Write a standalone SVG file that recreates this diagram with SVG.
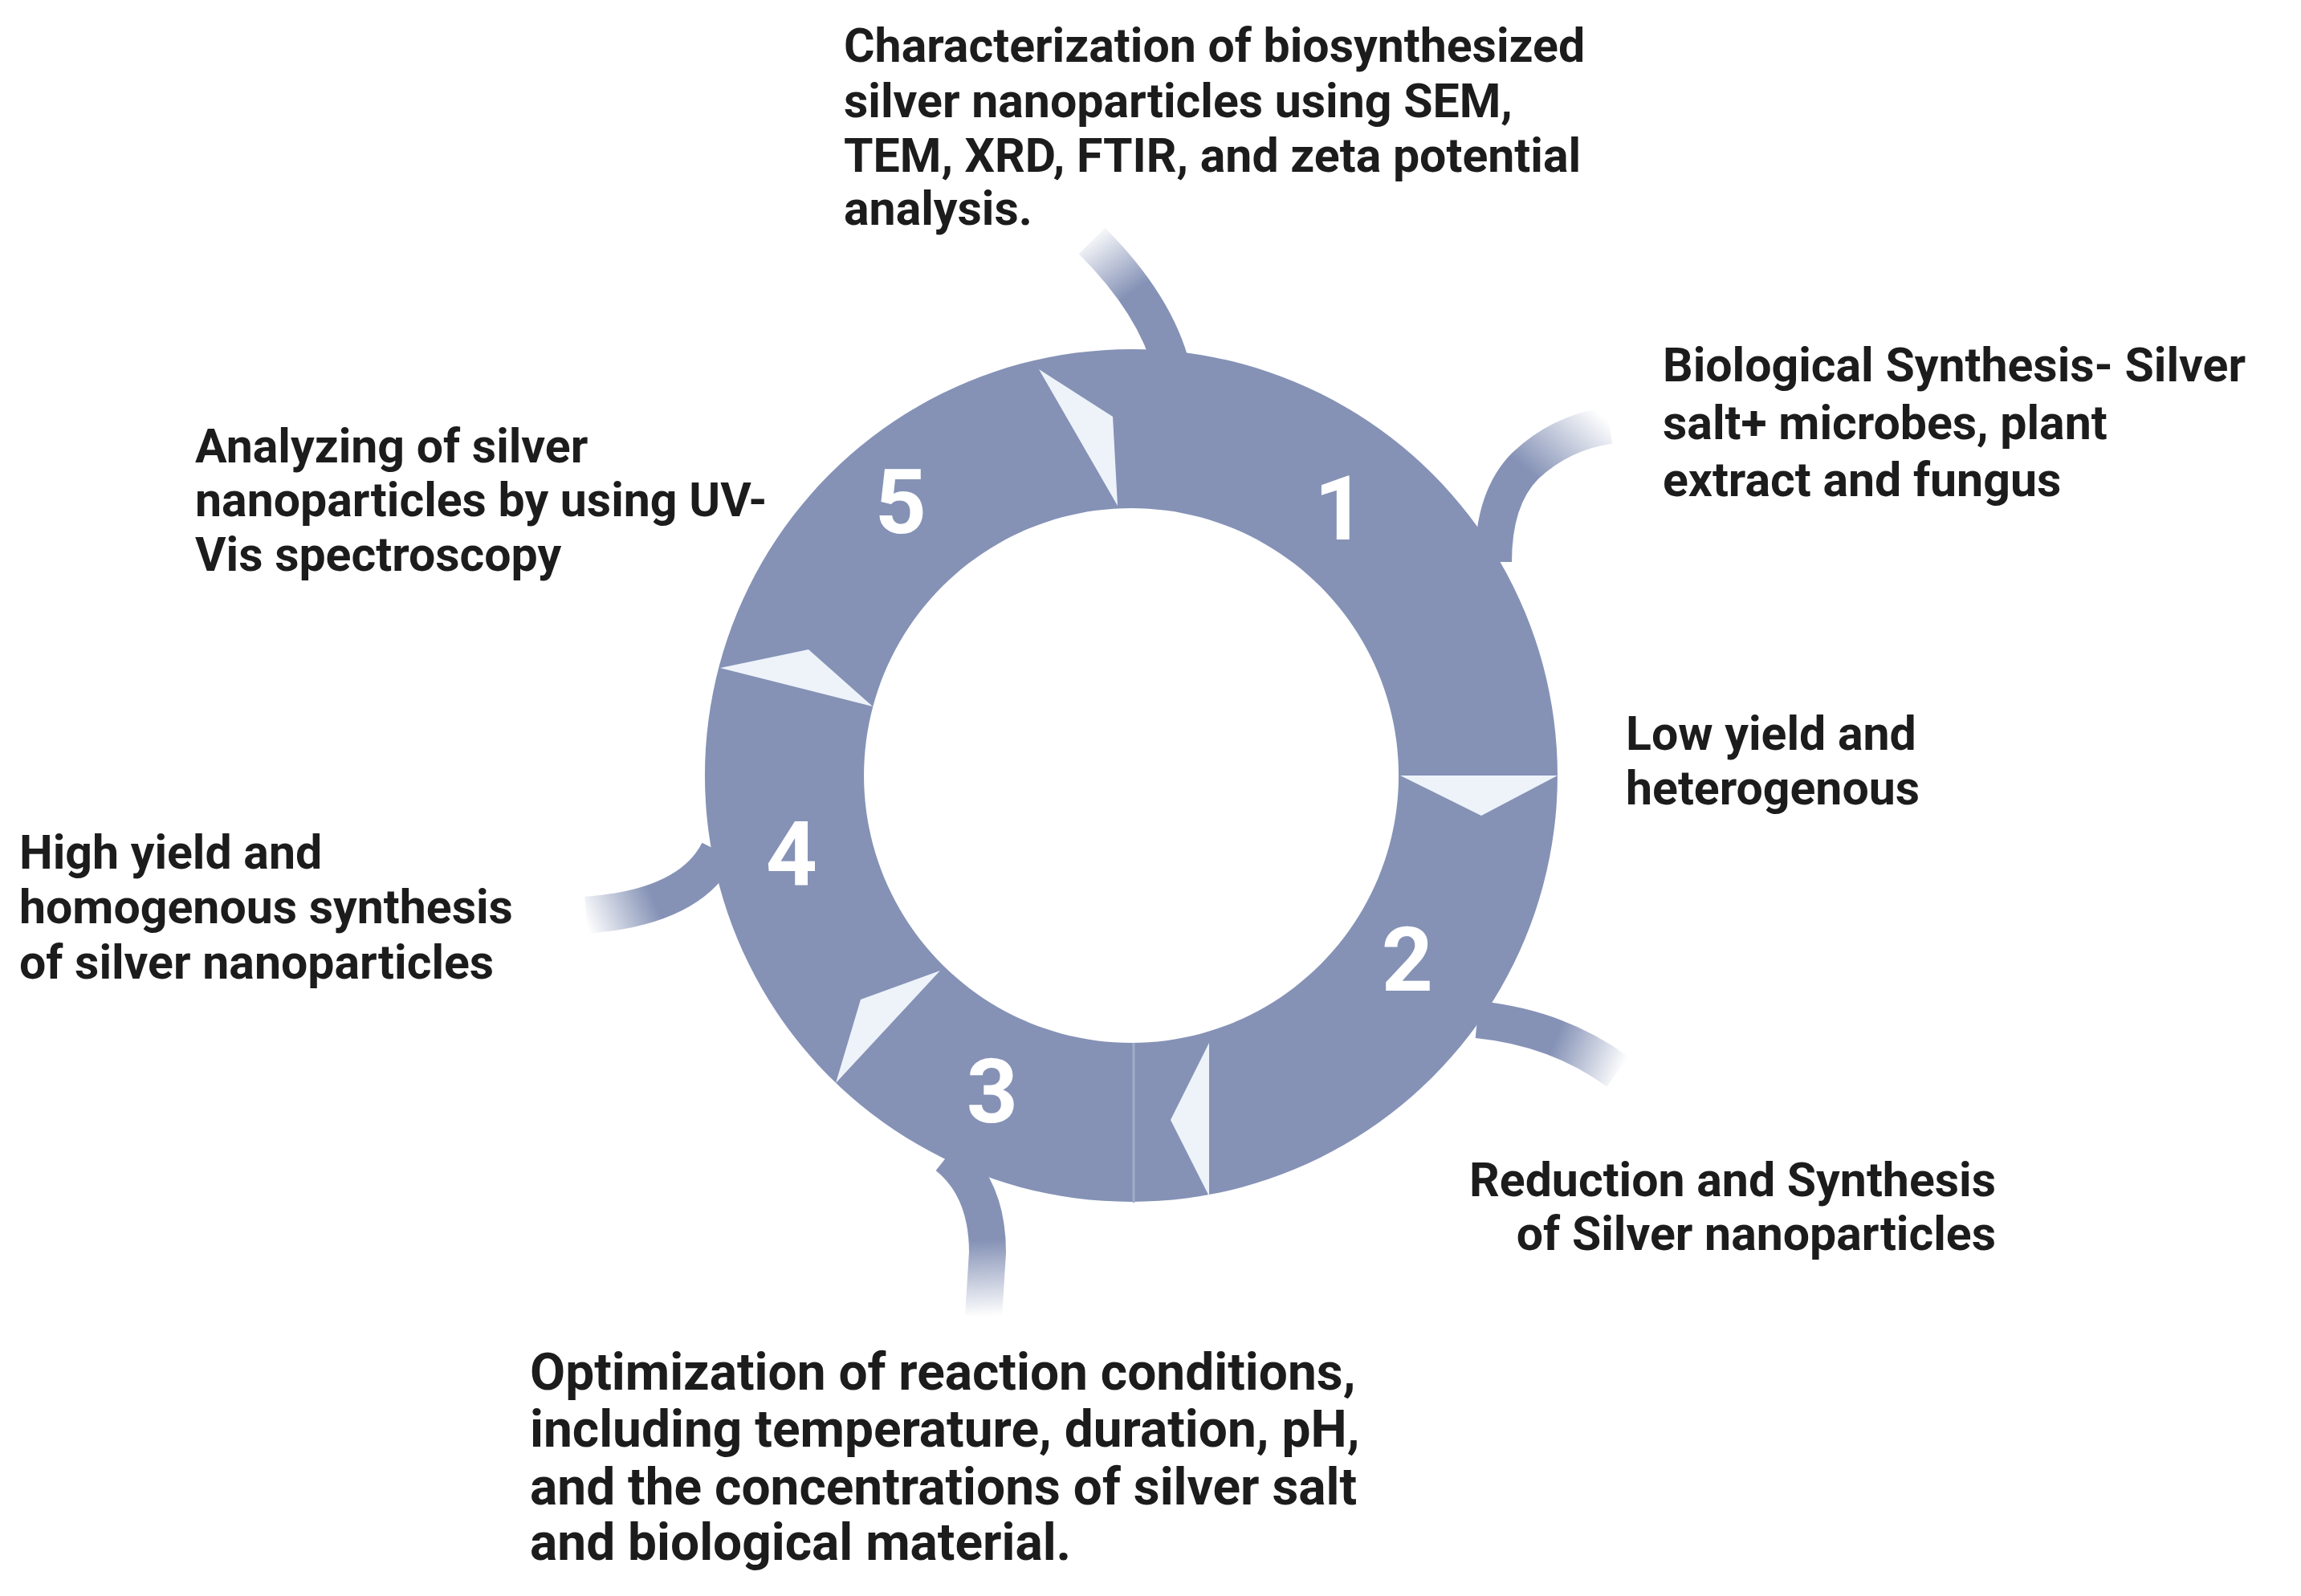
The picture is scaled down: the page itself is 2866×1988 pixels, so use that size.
<svg xmlns="http://www.w3.org/2000/svg" width="2866" height="1988" viewBox="0 0 2866 1988">
<defs>
<style>
.t{font-family:Roboto,"Liberation Sans",sans-serif;font-weight:700;font-size:59px;fill:#1c1c1c}
.b{font-size:64px}
.n{font-family:Roboto,"Liberation Sans",sans-serif;font-weight:700;font-size:112px;fill:#fff;text-anchor:middle}
.tube{fill:none;stroke-width:46;stroke-linecap:butt}
.tri{fill:#eef3fa}
</style>
<linearGradient id="g1" gradientUnits="userSpaceOnUse" x1="1455" y1="445" x2="1350" y2="295"><stop offset="0" stop-color="#8592b6"/><stop offset="0.5" stop-color="#8592b6"/><stop offset="1" stop-color="#8592b6" stop-opacity="0"/></linearGradient>
<linearGradient id="g2" gradientUnits="userSpaceOnUse" x1="1860" y1="700" x2="2010" y2="530"><stop offset="0" stop-color="#8592b6"/><stop offset="0.5" stop-color="#8592b6"/><stop offset="1" stop-color="#8592b6" stop-opacity="0"/></linearGradient>
<linearGradient id="g3" gradientUnits="userSpaceOnUse" x1="1850" y1="1265" x2="2020" y2="1335"><stop offset="0" stop-color="#8592b6"/><stop offset="0.5" stop-color="#8592b6"/><stop offset="1" stop-color="#8592b6" stop-opacity="0"/></linearGradient>
<linearGradient id="g4" gradientUnits="userSpaceOnUse" x1="1215" y1="1450" x2="1225" y2="1640"><stop offset="0" stop-color="#8592b6"/><stop offset="0.5" stop-color="#8592b6"/><stop offset="1" stop-color="#8592b6" stop-opacity="0"/></linearGradient>
<linearGradient id="g5" gradientUnits="userSpaceOnUse" x1="890" y1="1070" x2="725" y2="1140"><stop offset="0" stop-color="#8592b6"/><stop offset="0.5" stop-color="#8592b6"/><stop offset="1" stop-color="#8592b6" stop-opacity="0"/></linearGradient>
</defs>
<rect width="2866" height="1988" fill="#fff"/>
<g id="connectors">
<path class="tube" stroke="url(#g1)" d="M1460 460 Q1440 380 1360 300"/>
<path class="tube" stroke="url(#g2)" d="M1860 700 Q1860 620 1900 580 Q1945 538 2005 530"/>
<path class="tube" stroke="url(#g3)" d="M1840 1270 Q1940 1280 2015 1335"/>
<path class="tube" stroke="url(#g4)" d="M1180 1440 Q1230 1480 1230 1560 L1225 1640"/>
<path class="tube" stroke="url(#g5)" d="M895 1060 Q860 1130 730 1140"/>
</g>
<g id="ring">
<path fill="#8592b6" fill-rule="evenodd" d="M1409 435 A531 531 0 1 1 1408.9 435 Z M1409 633 A333 333 0 1 0 1409.1 633 Z"/>
<line x1="1412" y1="1299" x2="1412" y2="1498" stroke="#a0acc8" stroke-width="3"/>
<polygon class="tri" points="1294,460 1386,519 1392,630"/>
<polygon class="tri" points="1744,966 1940,966 1845,1016"/>
<polygon class="tri" points="1506,1299 1506,1490 1458,1395"/>
<polygon class="tri" points="1171,1209 1072,1245 1041,1349"/>
<polygon class="tri" points="897,832 1007,809 1087,880"/>
</g>
<g id="n1"><text class="n" x="1669" y="672">1</text>
<text class="t" x="2071" y="475">Biological Synthesis- Silver</text><text class="t" x="2071" y="547">salt+ microbes, plant</text><text class="t" x="2071" y="618">extract and fungus</text></g>
<g id="n1b"><text class="t" x="2025" y="934">Low yield and</text><text class="t" x="2025" y="1002">heterogenous</text></g>
<g id="n2"><text class="n" x="1753" y="1234">2</text>
<text class="t" x="2486" y="1490" text-anchor="end">Reduction and Synthesis</text><text class="t" x="2486" y="1557" text-anchor="end">of Silver nanoparticles</text></g>
<g id="n3"><text class="n" x="1236" y="1398">3</text>
<text class="t b" x="660" y="1731">Optimization of reaction conditions,</text><text class="t b" x="660" y="1802">including temperature, duration, pH,</text><text class="t b" x="660" y="1874">and the concentrations of silver salt</text><text class="t b" x="660" y="1943">and biological material.</text></g>
<g id="n4"><text class="n" x="986" y="1102">4</text>
<text class="t" x="24" y="1082">High yield and</text><text class="t" x="24" y="1150">homogenous synthesis</text><text class="t" x="24" y="1219">of silver nanoparticles</text></g>
<g id="n5"><text class="n" x="1122" y="664">5</text>
<text class="t" x="243" y="576">Analyzing of silver</text><text class="t" x="243" y="643">nanoparticles by using UV-</text><text class="t" x="243" y="711">Vis spectroscopy</text></g>
<g id="n6"><text class="t" x="1051" y="77">Characterization of biosynthesized</text><text class="t" x="1051" y="146">silver nanoparticles using SEM,</text><text class="t" x="1051" y="214">TEM, XRD, FTIR, and zeta potential</text><text class="t" x="1051" y="280">analysis.</text></g>
</svg>
